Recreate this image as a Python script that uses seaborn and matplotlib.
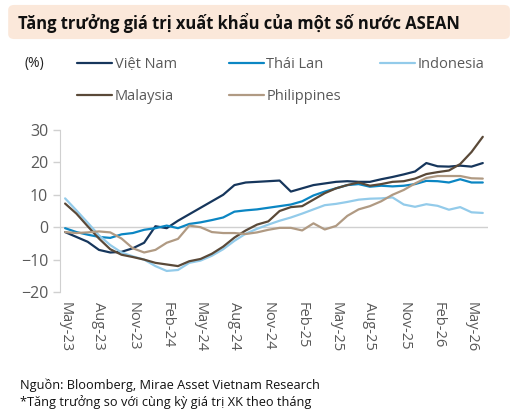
import numpy as np
import pandas as pd
import matplotlib
matplotlib.use('Agg')
import matplotlib.pyplot as plt
from matplotlib.patches import FancyBboxPatch
import seaborn as sns

# monthly YoY export growth (%), May-23 .. Jun-26
months = pd.period_range('2023-05', '2026-06', freq='M')
tick_labels = ['May-23', 'Aug-23', 'Nov-23', 'Feb-24', 'May-24', 'Aug-24', 'Nov-24',
               'Feb-25', 'May-25', 'Aug-25', 'Nov-25', 'Feb-26', 'May-26']

viet_nam = [-1.5, -3.0, -4.5, -7.0, -7.8, -7.6, -6.5, -4.8, 0.3, -0.3,
            2.0, 4.0, 6.0, 8.0, 10.0, 13.0, 13.8, 14.0, 14.2, 14.4,
            11.0, 12.0, 13.0, 13.5, 14.0, 14.2, 14.0, 14.0, 14.8, 15.5,
            16.3, 17.2, 19.8, 18.8, 18.7, 19.0, 18.7, 19.8]
thai_lan = [-0.3, -1.5, -2.3, -3.0, -3.3, -2.2, -1.8, -0.8, -0.3, 0.5,
            -0.3, 1.0, 1.5, 2.2, 3.0, 4.8, 5.2, 5.5, 6.0, 6.5,
            7.0, 8.0, 9.8, 11.0, 12.0, 13.0, 13.3, 12.5, 12.8, 12.6,
            12.8, 13.3, 14.3, 14.2, 13.8, 14.8, 13.8, 13.8]
indonesia = [8.9, 5.2, 1.4, -2.5, -5.5, -7.8, -9.0, -10.0, -12.0, -13.5,
             -13.2, -11.0, -10.3, -8.8, -6.8, -4.2, -2.0, -0.5, 0.8, 2.0,
             3.0, 4.2, 5.5, 6.8, 7.2, 7.8, 8.5, 8.8, 8.9, 9.2,
             7.0, 6.3, 7.1, 6.6, 5.4, 6.2, 4.6, 4.4]
malaysia = [7.3, 4.2, 0.3, -3.5, -6.8, -8.5, -9.2, -10.0, -11.0, -11.5,
            -12.0, -10.5, -9.8, -8.2, -6.0, -3.2, -1.0, 0.8, 1.8, 5.0,
            6.2, 6.5, 8.5, 10.5, 12.0, 13.0, 13.8, 12.8, 13.3, 14.0,
            14.2, 15.0, 16.4, 17.0, 17.5, 19.5, 23.2, 27.9]
philippines = [-1.5, -1.8, -1.6, -1.3, -1.6, -3.5, -6.5, -7.8, -7.0, -4.8,
               -3.6, 0.5, 0.0, -1.5, -1.8, -1.8, -2.1, -1.6, -0.8, -0.2,
               -0.2, -1.0, 1.2, -0.7, 0.4, 3.5, 5.5, 6.5, 8.0, 10.0,
               11.5, 13.5, 15.2, 15.8, 15.8, 15.8, 15.1, 15.0]

countries = ['Việt Nam', 'Thái Lan', 'Indonesia', 'Malaysia', 'Philippines']
colors = ['#16365c', '#0b86c3', '#93cbea', '#5a4938', '#b09a83']

df = pd.DataFrame({'Việt Nam': viet_nam, 'Thái Lan': thai_lan, 'Indonesia': indonesia,
                   'Malaysia': malaysia, 'Philippines': philippines})
df['idx'] = np.arange(len(months))
long_df = df.melt(id_vars='idx', var_name='country', value_name='growth')

sns.set_style('white')
plt.rcParams['font.family'] = ['Open Sans', 'DejaVu Sans']

fig = plt.figure(figsize=(5.13, 4.11), dpi=100)
ax = fig.add_axes([0.117, 0.2895, 0.834, 0.3942])

sns.lineplot(data=long_df, x='idx', y='growth', hue='country', hue_order=countries,
             palette=colors, linewidth=1.6, ax=ax)
ax.axhline(0, color='#d0d0d0', linewidth=1.0, zorder=0)

ax.set_xlim(-0.45, len(months) - 1 + 0.45)
ax.set_ylim(-20, 30)
ax.set_yticks([-20, -10, 0, 10, 20, 30])
ax.set_xticks(np.arange(0, 37, 3))
ax.set_xticklabels(tick_labels, rotation=-90, fontsize=10.5, color='#595959')
ax.tick_params(axis='y', labelsize=11.5, labelcolor='#595959', color='#d0d0d0',
               length=5, width=1, direction='out', left=True)
ax.tick_params(axis='x', length=0, pad=7)
ax.set_xlabel('')
ax.set_ylabel('')
for s in ['top', 'right', 'bottom']:
    ax.spines[s].set_visible(False)
ax.spines['left'].set_color('#d0d0d0')

handles, labels = ax.get_legend_handles_labels()
ax.get_legend().remove()
hmap = dict(zip(labels, handles))
cols = [['Việt Nam', 'Malaysia'], ['Thái Lan', 'Philippines'], ['Indonesia']]
xs = [0.151, 0.447, 0.741]
for x, names in zip(xs, cols):
    fig.legend([hmap[n] for n in names], names, loc='upper left',
               bbox_to_anchor=(x, 0.861), frameon=False, fontsize=10.5,
               handlelength=2.4, handletextpad=0.15, labelspacing=1.15,
               borderpad=0, borderaxespad=0, labelcolor='#595959')

fig.text(0.047, 0.846, '(%)', fontsize=10, color='#222222', va='center')

# title box
fig.patches.append(FancyBboxPatch((0.016, 0.905), 0.978, 0.083,
                                  boxstyle='round,pad=0,rounding_size=0.012',
                                  transform=fig.transFigure, facecolor='#fbe8da',
                                  edgecolor='none'))
fig.text(0.035, 0.945, 'Tăng trưởng giá trị xuất khẩu của một số nước ASEAN',
         fontsize=11.9, fontweight='bold', color='#111111', va='center')

fig.text(0.039, 0.062, 'Nguồn: Bloomberg, Mirae Asset Vietnam Research',
         fontsize=9.2, color='#111111', va='center')
fig.text(0.039, 0.022, '*Tăng trưởng so với cùng kỳ giá trị XK theo tháng',
         fontsize=9.2, color='#111111', va='center')

fig.savefig('out.png', dpi=100)
